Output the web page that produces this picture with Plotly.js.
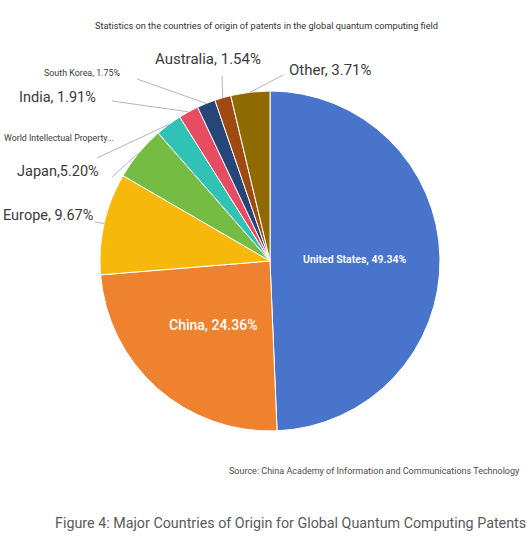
<!DOCTYPE html>
<html>
<head>
<meta charset="utf-8">
<script src="https://cdn.plot.ly/plotly-3.0.1.min.js"></script>
<style>html,body{margin:0;padding:0;background:#fff;}#chart{width:530px;height:542px;}</style>
</head>
<body>
<div id="chart"></div>
<script>
// ---- data ----
const categories = ["United States", "China", "Europe", "Japan", "World Intellectual Property...", "India", "South Korea", "Australia", "Other"];
const values = [49.34, 24.36, 9.67, 5.20, 2.52, 1.91, 1.75, 1.54, 3.71];
const valueLabels = ["49.34%", "24.36%", "9.67%", "5.20%", "", "1.91%", "1.75%", "1.54%", "3.71%"];
const separators = [", ", ", ", ", ", ",", "", ", ", ", ", ", ", ", "];
const colors = ["#4874CB", "#EE822F", "#F5B80B", "#74BC43", "#2FC2B5", "#E74D62", "#264579", "#9E4A10", "#8E6A00"];

// ---- layout geometry (pixels) ----
const W = 530, H = 542;
const cx = 270, cy = 261, R = 170;
const px = x => x / W;
const py = y => 1 - y / H;

// label placement: [left-x or center-x, center-y, font size, anchor, color, weight]
const labelPos = [
  [354, 260, 10.5, "center", "#ffffff", 600],
  [213, 325, 14, "center", "#ffffff", 500],
  [1, 216, 14.5, "left", "#3a3a3a", 400],
  [15, 171, 14.5, "left", "#3a3a3a", 400],
  [2, 138, 8.8, "left", "#3a3a3a", 400],
  [17, 97, 14.5, "left", "#3a3a3a", 400],
  [42, 73, 8.9, "left", "#3a3a3a", 400],
  [153, 59, 15, "left", "#3a3a3a", 400],
  [287, 70, 15, "left", "#3a3a3a", 400]
];
// leader line tails (pixels), null = no leader
const leaderTail = [null, null, [95, 222], [112, 177], [97, 158], [112, 101], [137, 79], [222, 76], [283, 75]];

const total = values.reduce((a, b) => a + b, 0);
let cum = 0;
const shapes = [];
const annotations = [];
values.forEach((v, i) => {
  const mid = (cum + v / 2) / total;
  cum += v;
  const th = 2 * Math.PI * mid;
  const hx = cx + R * Math.sin(th);
  const hy = cy - R * Math.cos(th);
  if (leaderTail[i]) {
    shapes.push({type: "line", xref: "paper", yref: "paper",
      x0: px(leaderTail[i][0]), y0: py(leaderTail[i][1]), x1: px(hx), y1: py(hy),
      line: {color: "#b5b5b5", width: 1}});
  }
  const lp = labelPos[i];
  annotations.push({
    xref: "paper", yref: "paper", x: px(lp[0]), y: py(lp[1]),
    xanchor: lp[3], yanchor: "middle", showarrow: false,
    text: categories[i] + separators[i] + valueLabels[i],
    font: {family: "Roboto, Arial, sans-serif", size: lp[2], color: lp[4], weight: lp[5]}
  });
});

annotations.push({xref: "paper", yref: "paper", x: px(266), y: py(25), xanchor: "center", yanchor: "middle", showarrow: false,
  text: "Statistics on the countries of origin of patents in the global quantum computing field",
  font: {family: "Roboto, Arial, sans-serif", size: 9.2, color: "#333333"}});
annotations.push({xref: "paper", yref: "paper", x: px(522), y: py(471), xanchor: "right", yanchor: "middle", showarrow: false,
  text: "Source: China Academy of Information and Communications Technology",
  font: {family: "Roboto, Arial, sans-serif", size: 9.0, color: "#4a4a4a"}});
annotations.push({xref: "paper", yref: "paper", x: px(528), y: py(523), xanchor: "right", yanchor: "middle", showarrow: false,
  text: "Figure 4: Major Countries of Origin for Global Quantum Computing Patents",
  font: {family: "Roboto, Arial, sans-serif", size: 14.3, color: "#5a5a5a"}});

const trace = {
  type: "pie",
  labels: categories,
  values: values,
  sort: false,
  direction: "clockwise",
  rotation: 0,
  textinfo: "none",
  hoverinfo: "label+percent",
  marker: {colors: colors, line: {color: "#ffffff", width: 1}},
  domain: {x: [px(cx - R), px(cx + R)], y: [py(cy + R), py(cy - R)]},
  showlegend: false
};

Plotly.newPlot("chart", [trace], {
  width: W, height: H,
  margin: {l: 0, r: 0, t: 0, b: 0},
  paper_bgcolor: "#ffffff",
  showlegend: false,
  shapes: shapes,
  annotations: annotations
}, {displayModeBar: false, staticPlot: true});
</script>
</body>
</html>
